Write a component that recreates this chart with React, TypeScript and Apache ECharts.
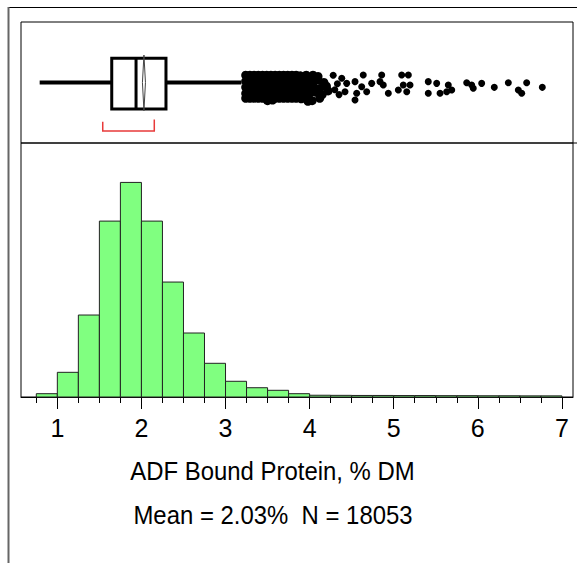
import React, { useEffect, useRef } from "react";
import * as echarts from "echarts";

// ---- data ----
const X_MIN = 0.568;
const X_MAX = 7.132;
const Y_MAX = 4930;
const BIN_WIDTH = 0.25;
const BIN_LEFT = [0.75, 1, 1.25, 1.5, 1.75, 2, 2.25, 2.5, 2.75, 3, 3.25, 3.5, 3.75, 4, 4.25, 4.5, 4.75, 5, 5.25, 5.5, 5.75, 6, 6.25, 6.5, 6.75];
const BIN_COUNTS = [64, 479, 1591, 3414, 4165, 3414, 2231, 1242, 654, 305, 180, 130, 64, 34, 32, 30, 30, 28, 28, 26, 26, 24, 24, 22, 22];
const MAJOR_TICKS = [1, 2, 3, 4, 5, 6, 7];
const MINOR_TICKS = [0.75, 1.25, 1.5, 1.75, 2.25, 2.5, 2.75, 3.25, 3.5, 3.75, 4.25, 4.5, 4.75, 5.25, 5.5, 5.75, 6.25, 6.5, 6.75];
// min whisker, Q1, median, Q3, max whisker
const BOX_FIVE = [0.79, 1.647, 1.936, 2.292, 3.19];
const MEAN = 2.03;
const MEAN_CI = [2.012, 2.048];
const SHORTEST_HALF = [1.54, 2.153];
const TITLE = "ADF Bound Protein, % DM";
const SUBTITLE = "Mean = 2.03%  N = 18053";
// outliers near the upper fence (heavily overlapping): [value, vertical jitter 0..1]
const OUTLIERS_DENSE: [number, number][] = [
  [3.24, 0.56], [3.29, 0.56], [3.34, 0.56], [3.39, 0.56], [3.44, 0.56], [3.49, 0.56], [3.54, 0.56], [3.59, 0.56], [3.64, 0.56], [3.69, 0.56], [3.74, 0.56], [3.79, 0.56], [3.84, 0.56], [3.89, 0.555], [3.96, 0.56], [4.04, 0.56], [4.10, 0.55],
  [3.24, 0.51], [3.29, 0.51], [3.34, 0.51], [3.39, 0.51], [3.44, 0.51], [3.49, 0.51], [3.54, 0.51], [3.59, 0.51], [3.64, 0.51], [3.69, 0.51], [3.74, 0.51], [3.79, 0.51], [3.84, 0.51], [3.89, 0.51], [3.94, 0.51], [3.99, 0.51], [4.04, 0.50], [4.10, 0.52], [4.17, 0.50],
  [3.24, 0.46], [3.29, 0.46], [3.34, 0.46], [3.39, 0.46], [3.44, 0.46], [3.49, 0.46], [3.54, 0.46], [3.59, 0.46], [3.64, 0.46], [3.69, 0.46], [3.74, 0.46], [3.79, 0.46], [3.84, 0.46], [3.89, 0.46], [3.94, 0.46], [3.99, 0.46], [4.05, 0.46], [4.12, 0.45], [4.20, 0.47],
  [3.24, 0.41], [3.29, 0.41], [3.34, 0.41], [3.39, 0.41], [3.44, 0.41], [3.49, 0.41], [3.54, 0.41], [3.59, 0.41], [3.64, 0.41], [3.69, 0.41], [3.74, 0.41], [3.79, 0.41], [3.84, 0.41], [3.89, 0.41], [3.94, 0.40], [4.00, 0.41], [4.07, 0.42], [4.15, 0.40],
  [3.24, 0.37], [3.29, 0.37], [3.34, 0.37], [3.39, 0.37], [3.44, 0.37], [3.49, 0.37], [3.54, 0.37], [3.59, 0.37], [3.64, 0.37], [3.69, 0.37], [3.74, 0.37], [3.79, 0.37], [3.84, 0.37], [3.90, 0.365], [3.97, 0.36], [4.03, 0.35], [4.12, 0.37],
  [3.50, 0.35], [3.56, 0.355], [3.98, 0.345], [4.22, 0.43],
];
// sparse outliers further out
const OUTLIERS_SPARSE: [number, number][] = [
  [4.28, 0.56], [4.30, 0.44], [4.33, 0.49], [4.35, 0.40],
  [4.382, 0.535], [4.441, 0.493], [4.421, 0.424], [4.540, 0.507], [4.560, 0.411], [4.540, 0.355], [4.638, 0.562], [4.619, 0.465], [4.679, 0.424], [4.738, 0.493],
  [4.857, 0.562], [4.837, 0.507], [4.876, 0.479], [4.936, 0.411], [5.095, 0.562], [5.174, 0.562], [5.114, 0.479], [5.055, 0.438], [5.155, 0.424], [5.194, 0.479],
  [5.411, 0.507], [5.511, 0.493], [5.411, 0.411], [5.551, 0.411], [5.649, 0.479], [5.630, 0.424], [5.690, 0.438], [5.868, 0.498], [5.927, 0.479], [5.946, 0.452],
  [6.046, 0.493], [6.196, 0.460], [6.363, 0.498], [6.482, 0.438], [6.522, 0.411], [6.581, 0.498], [6.767, 0.460],
];

// box geometry in the box panel's 0..1 vertical units
const BOX_TOP = 0.70;
const BOX_BOTTOM = 0.28;
const MID = 0.5;

export default function App() {
  const ref = useRef<HTMLDivElement>(null);
  useEffect(() => {
    if (!ref.current) return;
    const chart = echarts.init(ref.current, null, { renderer: "svg" });
    const histData = BIN_LEFT.map((l, i) => [l, l + BIN_WIDTH, BIN_COUNTS[i]]);
    const option: any = {
      animation: false,
      backgroundColor: "#fff",
      grid: [
        { left: 21, top: 22, width: 552, height: 121, show: true, borderColor: "#000", borderWidth: 1, backgroundColor: "transparent" },
        { left: 21, top: 143, width: 552, height: 254, show: true, borderColor: "#000", borderWidth: 1, backgroundColor: "transparent" },
      ],
      xAxis: [
        { type: "value", gridIndex: 0, min: X_MIN, max: X_MAX, show: false },
        {
          type: "value", gridIndex: 1, min: X_MIN, max: X_MAX, position: "bottom",
          axisLine: { show: true, onZero: false, lineStyle: { color: "#000", width: 1 } },
          axisTick: { show: true, customValues: MAJOR_TICKS, length: 12, lineStyle: { color: "#000", width: 1 } },
          axisLabel: { show: true, customValues: MAJOR_TICKS, fontSize: 25, fontFamily: "Liberation Sans, Arial, sans-serif", color: "#000", margin: 18 },
          splitLine: { show: false },
        },
        {
          type: "value", gridIndex: 1, min: X_MIN, max: X_MAX, position: "bottom", offset: 0,
          axisLine: { show: false, onZero: false },
          axisTick: { show: true, customValues: MINOR_TICKS, length: 6, lineStyle: { color: "#000", width: 1 } },
          axisLabel: { show: false },
          splitLine: { show: false },
        },
      ],
      yAxis: [
        { type: "value", gridIndex: 0, min: 0, max: 1, show: false },
        { type: "value", gridIndex: 1, min: 0, max: Y_MAX, show: false },
      ],
      series: [
        {
          type: "custom",
          xAxisIndex: 1,
          yAxisIndex: 1,
          data: histData,
          encode: { x: [0, 1], y: 2 },
          renderItem: (params: any, api: any) => {
            const p0 = api.coord([api.value(0), api.value(2)]);
            const p1 = api.coord([api.value(1), 0]);
            return {
              type: "rect",
              shape: { x: p0[0], y: p0[1], width: p1[0] - p0[0], height: p1[1] - p0[1] },
              style: { fill: "#80ff80", stroke: "#222", lineWidth: 1 },
            };
          },
        },
        {
          type: "custom",
          xAxisIndex: 0,
          yAxisIndex: 0,
          data: [BOX_FIVE],
          encode: { x: [0, 1, 2, 3, 4] },
          renderItem: (params: any, api: any) => {
            const c = (v: number, y: number) => api.coord([v, y]);
            const [mn, q1, md, q3, mx] = [0, 1, 2, 3, 4].map((i) => api.value(i));
            const lt = c(q1, BOX_TOP);
            const rb = c(q3, BOX_BOTTOM);
            return {
              type: "group",
              children: [
                { type: "line", shape: { x1: c(mn, MID)[0], y1: c(mn, MID)[1], x2: c(q1, MID)[0], y2: c(q1, MID)[1] }, style: { stroke: "#000", lineWidth: 4 } },
                { type: "line", shape: { x1: c(q3, MID)[0], y1: c(q3, MID)[1], x2: c(mx, MID)[0], y2: c(mx, MID)[1] }, style: { stroke: "#000", lineWidth: 4 } },
                { type: "rect", shape: { x: lt[0], y: lt[1], width: rb[0] - lt[0], height: rb[1] - lt[1] }, style: { fill: "none", stroke: "#000", lineWidth: 3 } },
                { type: "line", shape: { x1: c(md, BOX_TOP)[0], y1: c(md, BOX_TOP)[1], x2: c(md, BOX_BOTTOM)[0], y2: c(md, BOX_BOTTOM)[1] }, style: { stroke: "#000", lineWidth: 3 } },
                {
                  type: "polygon",
                  shape: { points: [c(MEAN, 0.727), c(MEAN_CI[0], MID), c(MEAN, 0.267), c(MEAN_CI[1], MID)] },
                  style: { fill: "none", stroke: "#444", lineWidth: 1 },
                },
                {
                  type: "polyline",
                  shape: { points: [c(SHORTEST_HALF[0], 0.175), c(SHORTEST_HALF[0], 0.10), c(SHORTEST_HALF[1], 0.10), c(SHORTEST_HALF[1], 0.195)] },
                  style: { fill: "none", stroke: "#e83a3a", lineWidth: 1.5 },
                },
              ],
            };
          },
        },
        {
          type: "scatter",
          xAxisIndex: 0,
          yAxisIndex: 0,
          data: OUTLIERS_DENSE,
          symbol: "circle",
          symbolSize: 9,
          itemStyle: { color: "#000", opacity: 1 },
          z: 5,
        },
        {
          type: "scatter",
          xAxisIndex: 0,
          yAxisIndex: 0,
          data: OUTLIERS_SPARSE,
          symbol: "circle",
          symbolSize: 7,
          itemStyle: { color: "#000", opacity: 1 },
          z: 5,
        },
      ],
      graphic: [
        { type: "line", shape: { x1: 8, y1: 7.5, x2: 577, y2: 7.5 }, style: { stroke: "#000", lineWidth: 1 } },
        { type: "line", shape: { x1: 8.5, y1: 7, x2: 8.5, y2: 563 }, style: { stroke: "#666", lineWidth: 2 } },
        { type: "line", shape: { x1: 573, y1: 143, x2: 577, y2: 143 }, style: { stroke: "#000", lineWidth: 1 } },
        {
          type: "text", x: 272.5, y: 471, scaleX: 0.92,
          style: { text: TITLE, fontSize: 26, fontFamily: "Liberation Sans, Arial, sans-serif", fill: "#000", align: "center", verticalAlign: "middle" },
        },
        {
          type: "text", x: 273, y: 515, scaleX: 0.92,
          style: { text: SUBTITLE, fontSize: 26, fontFamily: "Liberation Sans, Arial, sans-serif", fill: "#000", align: "center", verticalAlign: "middle" },
        },
      ],
    };
    chart.setOption(option);
    return () => chart.dispose();
  }, []);
  return <div ref={ref} style={{ position: "absolute", left: 0, top: 0, width: 577, height: 563 }} />;
}
